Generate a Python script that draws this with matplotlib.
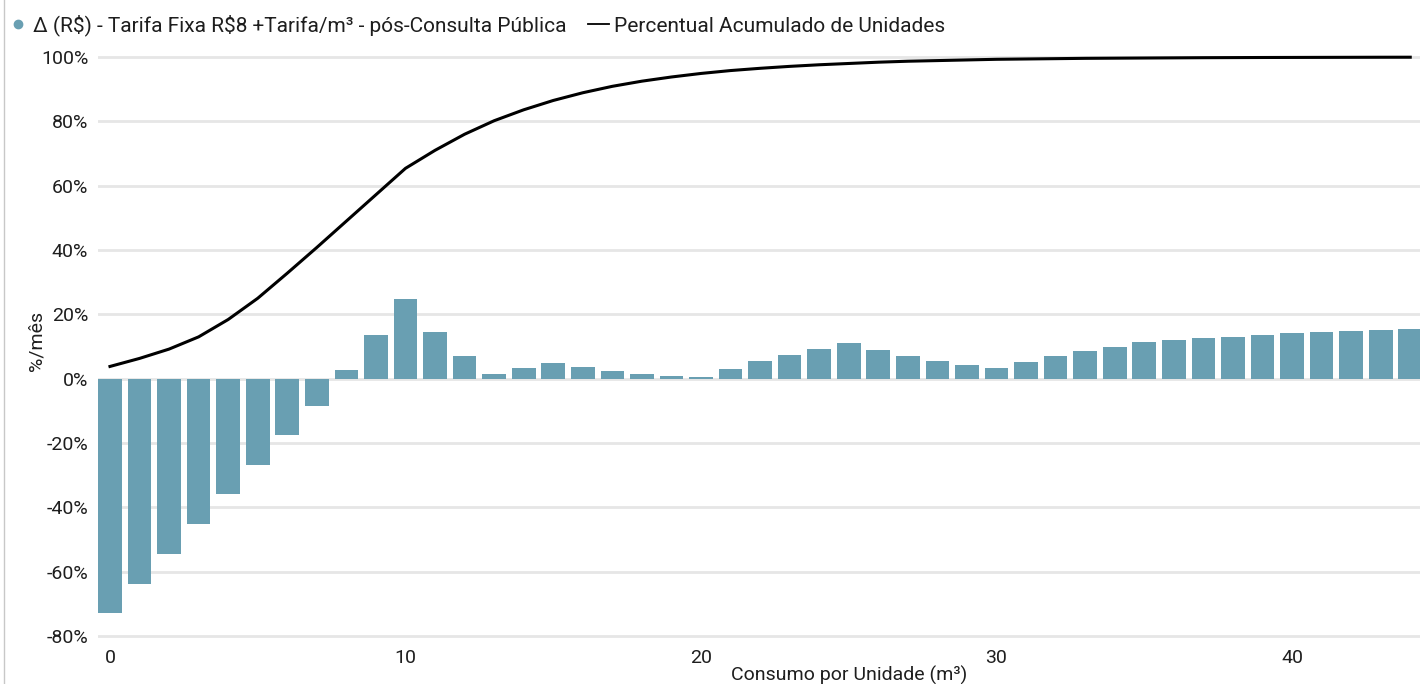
import matplotlib
matplotlib.use('Agg')
import matplotlib.pyplot as plt
from matplotlib.lines import Line2D
from matplotlib.ticker import FuncFormatter

plt.rcParams['font.family'] = ['Roboto', 'DejaVu Sans']

# consumo por unidade (m3)
consumo = list(range(45))

# variação % da conta por faixa de consumo
delta = [-72.8, -63.7, -54.5, -45.2, -36.0, -26.7, -17.6, -8.4, 2.6, 13.7,
         24.7, 14.5, 7.1, 1.5, 3.3, 4.8, 3.5, 2.5, 1.5, 0.8,
         0.4, 2.9, 5.4, 7.3, 9.2, 11.0, 8.8, 7.0, 5.6, 4.2,
         3.3, 5.2, 6.9, 8.6, 9.9, 11.3, 11.9, 12.5, 13.0, 13.6,
         14.1, 14.5, 14.8, 15.2, 15.5]

# percentual acumulado de unidades
acumulado = [3.8, 6.3, 9.2, 13.0, 18.4, 25.0, 32.8, 40.8, 49.0, 57.2,
             65.4, 71.0, 76.0, 80.2, 83.6, 86.5, 88.9, 90.9, 92.5, 93.8,
             94.9, 95.8, 96.5, 97.1, 97.6, 98.0, 98.4, 98.7, 98.9, 99.1,
             99.3, 99.4, 99.5, 99.6, 99.65, 99.7, 99.75, 99.8, 99.83, 99.86,
             99.88, 99.9, 99.92, 99.94, 99.95]

nome_barras = r'Δ (R\$) - Tarifa Fixa R\$8 +Tarifa/m³ - pós-Consulta Pública'
nome_linha = 'Percentual Acumulado de Unidades'

cor_barra = '#699fb2'
cor_texto = '#1e1e1e'

fig = plt.figure(figsize=(14.2, 6.84), dpi=100)
ax = fig.add_axes([0.069, 0.0655, 0.931, 0.8558])

ax.bar(consumo, delta, width=0.8, color=cor_barra, zorder=2)
ax.plot(consumo, acumulado, color='black', lw=2.2, zorder=3)

ax.set_xlim(-0.406, 44.33)
ax.set_ylim(-81, 101)
ax.set_yticks(range(-80, 101, 20))
ax.set_xticks([0, 10, 20, 30, 40])
ax.yaxis.set_major_formatter(FuncFormatter(lambda v, p: f'{v:.0f}%'))
ax.tick_params(length=0, labelsize=14, colors=cor_texto)
ax.tick_params(axis='y', pad=7)
ax.tick_params(axis='x', pad=7)
ax.grid(axis='y', color='#e6e6e6', lw=2, zorder=0)
for s in ax.spines.values():
    s.set_visible(False)

fig.text(849 / 1420, 1 - 675 / 684, 'Consumo por Unidade (m³)', ha='center', va='center',
         fontsize=14, color=cor_texto)
fig.text(37 / 1420, 1 - 341 / 684, '%/mês', rotation=90, ha='center', va='center',
         fontsize=14, color=cor_texto)

# borda esquerda
fig.add_artist(Line2D([4 / 1420, 4 / 1420], [0, 1], color='#c8c8c8', lw=1))

handles = [Line2D([], [], marker='o', color=cor_barra, ls='none', markersize=6),
           Line2D([], [], color='black', lw=1.3)]
fig.legend(handles, [nome_barras, nome_linha], loc='upper left', bbox_to_anchor=(-0.008, 1.006),
           ncol=2, frameon=False, fontsize=15, handlelength=1.0, handletextpad=0.25,
           columnspacing=1.0, labelcolor=cor_texto)

fig.savefig('out.png', dpi=100)
